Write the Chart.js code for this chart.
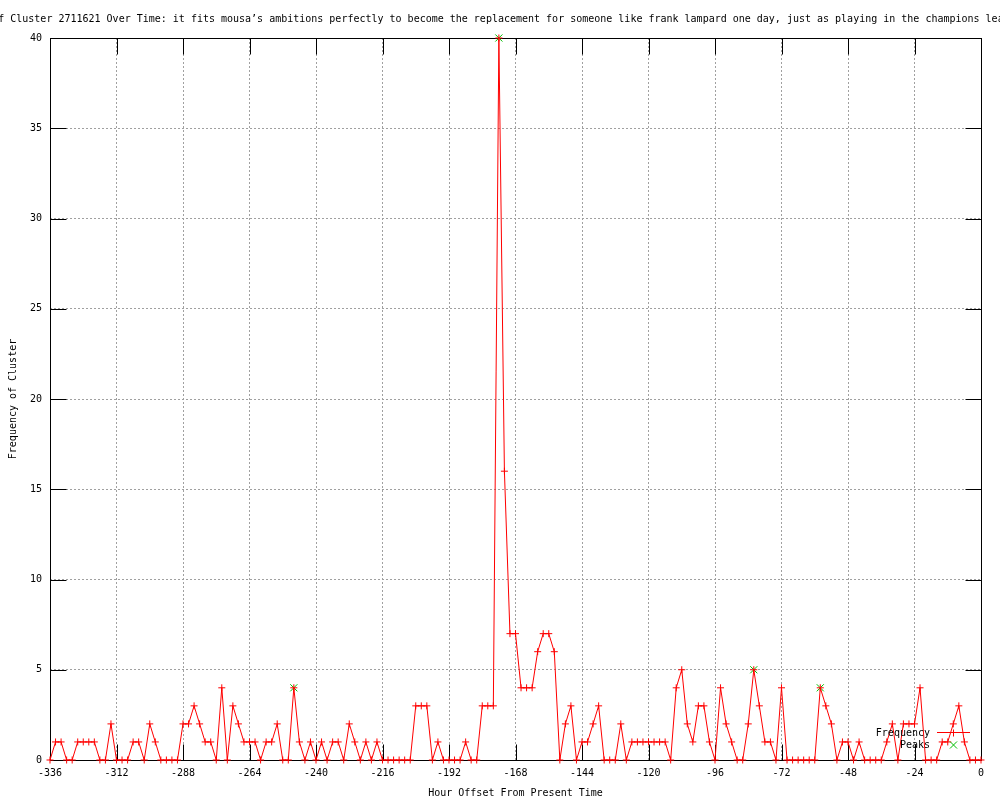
<!DOCTYPE html>
<html>
<head>
<meta charset="utf-8">
<script src="https://cdn.jsdelivr.net/npm/chart.js@4/dist/chart.umd.min.js"></script>
<style>html,body{margin:0;padding:0;background:#fff;}canvas{display:block;}</style>
</head>
<body>
<canvas id="c" width="1000" height="800"></canvas>
<script>
// ---- data ----
const titleText = "Frequency of Cluster 2711621 Over Time: it fits mousa\u2019s ambitions perfectly to become the replacement for someone like frank lampard one day, just as playing in the champions league";
const xTitle = "Hour Offset From Present Time";
const yTitle = "Frequency of Cluster";

const hours = [
  -336,-334,-332,-330,-328,-326,-324,-322,-320,-318,
  -316,-314,-312,-310,-308,-306,-304,-302,-300,-298,
  -296,-294,-292,-290,-288,-286,-284,-282,-280,-278,
  -276,-274,-272,-270,-268,-266,-264,-262,-260,-258,
  -256,-254,-252,-250,-248,-246,-244,-242,-240,-238,
  -236,-234,-232,-230,-228,-226,-224,-222,-220,-218,
  -216,-214,-212,-210,-208,-206,-204,-202,-200,-198,
  -196,-194,-192,-190,-188,-186,-184,-182,-180,-178,
  -176,-174,-172,-170,-168,-166,-164,-162,-160,-158,
  -156,-154,-152,-150,-148,-146,-144,-142,-140,-138,
  -136,-134,-132,-130,-128,-126,-124,-122,-120,-118,
  -116,-114,-112,-110,-108,-106,-104,-102,-100,-98,
  -96,-94,-92,-90,-88,-86,-84,-82,-80,-78,
  -76,-74,-72,-70,-68,-66,-64,-62,-60,-58,
  -56,-54,-52,-50,-48,-46,-44,-42,-40,-38,
  -36,-34,-32,-30,-28,-26,-24,-22,-20,-18,
  -16,-14,-12,-10,-8,-6,-4,-2,0
];
const frequency = [
  0,1,1,0,0,1,1,1,1,0,
  0,2,0,0,0,1,1,0,2,1,
  0,0,0,0,2,2,3,2,1,1,
  0,4,0,3,2,1,1,1,0,1,
  1,2,0,0,4,1,0,1,0,1,
  0,1,1,0,2,1,0,1,0,1,
  0,0,0,0,0,0,3,3,3,0,
  1,0,0,0,0,1,0,0,3,3,
  3,40,16,7,7,4,4,4,6,7,
  7,6,0,2,3,0,1,1,2,3,
  0,0,0,2,0,1,1,1,1,1,
  1,1,0,4,5,2,1,3,3,1,
  0,4,2,1,0,0,2,5,3,1,
  1,0,4,0,0,0,0,0,0,4,
  3,2,0,1,1,0,1,0,0,0,
  0,1,2,0,2,2,2,4,0,0,
  0,1,1,2,3,1,0,0,0
];
const peakHours = [-248, -174, -82, -58];
const peakValues = [4, 40, 5, 4];

const xTickStep = 24;
const yTickStep = 5;
// ------------------------------------------------

const FONT = "'DejaVu Sans Mono', 'Liberation Mono', monospace";
const RED = '#ff0000';
const GREEN = '#00c000';

const framePlugin = {
  id: 'frame',
  beforeDraw(chart) {
    const ctx = chart.ctx;
    ctx.save();
    ctx.fillStyle = '#ffffff';
    ctx.fillRect(0, 0, chart.width, chart.height);
    ctx.restore();
  },
  beforeDatasetsDraw(chart) {
    const {ctx, chartArea: a, scales} = chart;
    const L = Math.round(a.left) + 0.5, R = Math.round(a.right) + 0.5;
    const T = Math.round(a.top) + 0.5, B = Math.round(a.bottom) + 0.5;
    const tl = 16;
    ctx.save();
    ctx.strokeStyle = '#000';
    ctx.lineWidth = 1;
    ctx.setLineDash([]);
    ctx.beginPath();
    scales.x.ticks.forEach(t => {
      const px = Math.round(scales.x.getPixelForValue(t.value)) + 0.5;
      ctx.moveTo(px, B); ctx.lineTo(px, B - tl);
      ctx.moveTo(px, T); ctx.lineTo(px, T + tl);
    });
    scales.y.ticks.forEach(t => {
      const py = Math.round(scales.y.getPixelForValue(t.value)) + 0.5;
      ctx.moveTo(L, py); ctx.lineTo(L + tl, py);
      ctx.moveTo(R, py); ctx.lineTo(R - tl, py);
    });
    ctx.stroke();
    ctx.strokeRect(L, T, R - L, B - T);
    ctx.restore();
  },
  afterDatasetsDraw(chart) {
    // gnuplot-style key: text right-aligned, sample to the right
    const {ctx, chartArea: a} = chart;
    ctx.save();
    ctx.font = '10px ' + FONT;
    ctx.textAlign = 'right';
    ctx.textBaseline = 'middle';
    ctx.fillStyle = '#000';
    chart.data.datasets.forEach((d, i) => {
      const y = Math.round(a.bottom - 27 + i * 12);
      ctx.fillText(d.label, a.right - 51, y);
      const cx = a.right - 27.5;
      ctx.strokeStyle = d.borderColor;
      ctx.lineWidth = 1;
      ctx.beginPath();
      if (d.showLine !== false) {
        ctx.moveTo(a.right - 44, y - 0.5);
        ctx.lineTo(a.right - 11, y - 0.5);
      }
      const r = d.pointRadius;
      if (d.pointStyle === 'cross') {
        ctx.moveTo(cx - r, y - 0.5); ctx.lineTo(cx + r, y - 0.5);
        ctx.moveTo(cx, y - r); ctx.lineTo(cx, y + r);
      } else {
        const k = r * Math.SQRT1_2;
        ctx.moveTo(cx - k, y - k); ctx.lineTo(cx + k, y + k);
        ctx.moveTo(cx + k, y - k); ctx.lineTo(cx - k, y + k);
      }
      ctx.stroke();
    });
    ctx.restore();
  },
  afterDraw(chart) {
    const ctx = chart.ctx;
    ctx.save();
    ctx.font = '10px ' + FONT;
    ctx.textAlign = 'left';
    ctx.textBaseline = 'middle';
    ctx.fillStyle = '#000';
    ctx.fillText(titleText, -68, 19);
    ctx.restore();
  }
};

new Chart(document.getElementById('c'), {
  type: 'line',
  data: {
    datasets: [
      {
        label: 'Frequency',
        data: hours.map((h, i) => ({x: h, y: frequency[i]})),
        borderColor: RED,
        backgroundColor: RED,
        borderWidth: 1,
        tension: 0,
        fill: false,
        pointStyle: 'cross',
        pointRadius: 3.5,
        pointHoverRadius: 3.5,
        pointBorderWidth: 1,
        pointBorderColor: RED,
        clip: false
      },
      {
        label: 'Peaks',
        data: peakHours.map((h, i) => ({x: h, y: peakValues[i]})),
        showLine: false,
        borderColor: GREEN,
        backgroundColor: GREEN,
        pointStyle: 'crossRot',
        pointRadius: 5,
        pointHoverRadius: 5,
        pointBorderWidth: 1,
        pointBorderColor: GREEN,
        clip: false
      }
    ]
  },
  options: {
    responsive: false,
    animation: false,
    devicePixelRatio: 1,
    events: [],
    layout: {padding: {top: 38, right: 19, left: 0, bottom: 0}},
    plugins: {legend: {display: false}, title: {display: false}, tooltip: {enabled: false}},
    scales: {
      x: {
        type: 'linear',
        min: -336,
        max: 0,
        afterFit(s) { s.height = 40; },
        ticks: {stepSize: xTickStep, autoSkip: false, maxRotation: 0, minRotation: 0, color: '#000', padding: 7, font: {family: FONT, size: 10}},
        grid: {color: '#a0a0a0', lineWidth: 1, drawTicks: false},
        border: {display: false, dash: [2, 2]},
        title: {display: true, text: xTitle, color: '#000', font: {family: FONT, size: 10}, padding: {top: 0, bottom: 1}}
      },
      y: {
        type: 'linear',
        min: 0,
        max: 40,
        afterFit(s) { s.width = 50; },
        ticks: {stepSize: yTickStep, color: '#000', padding: 8, font: {family: FONT, size: 10}},
        grid: {color: '#a0a0a0', lineWidth: 1, drawTicks: false},
        border: {display: false, dash: [2, 2]},
        title: {display: true, text: yTitle, color: '#000', font: {family: FONT, size: 10}, padding: {top: 7, bottom: 0}}
      }
    }
  },
  plugins: [framePlugin]
});
</script>
</body>
</html>
